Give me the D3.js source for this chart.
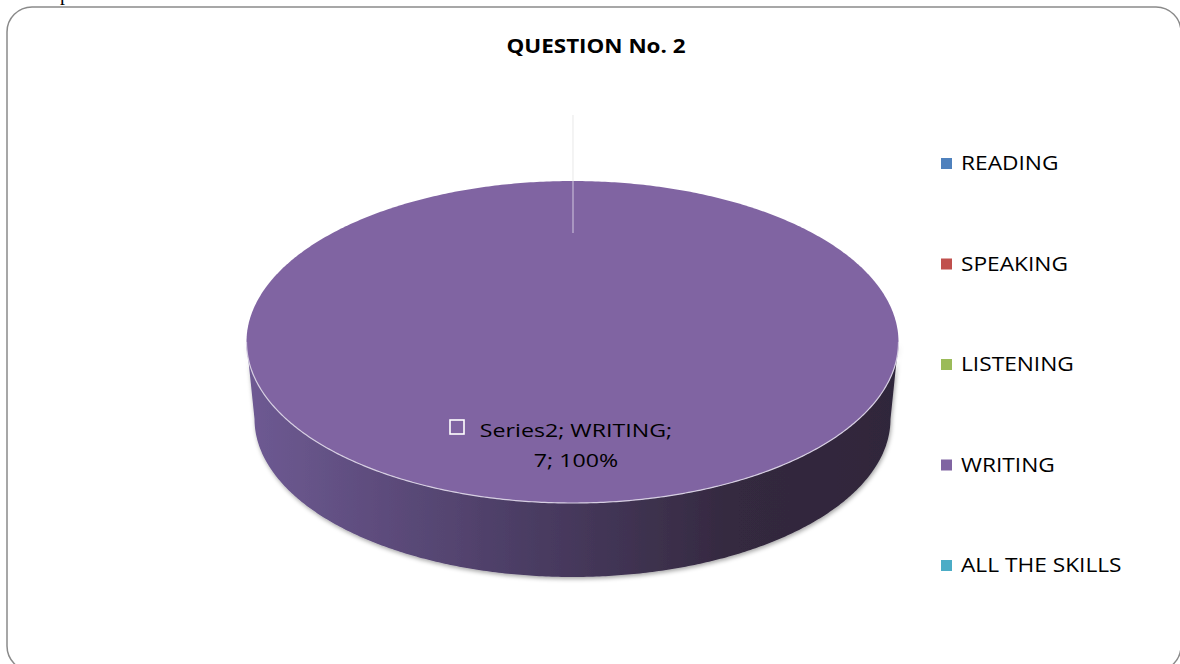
<!DOCTYPE html>
<html>
<head>
<meta charset="utf-8">
<script src="https://cdn.jsdelivr.net/npm/d3@7"></script>
<style>
  html, body { margin: 0; padding: 0; background: #fff; }
  svg { display: block; }
  text { font-family: "Open Sans", "Noto Sans", sans-serif; }
</style>
</head>
<body>
<svg id="chart" width="1180" height="664"></svg>
<script>
const title = "QUESTION No. 2";
const seriesName = "Series2";
const categories = ["READING", "SPEAKING", "LISTENING", "WRITING", "ALL THE SKILLS"];
const values = [0, 0, 0, 7, 0];
const colors = ["#4F81BD", "#C0504D", "#9BBB59", "#8064A2", "#4BACC6"];

const svg = d3.select("#chart");
const defs = svg.append("defs");

const grad = defs.append("linearGradient").attr("id", "sideGrad")
  .attr("x1", "0%").attr("x2", "100%").attr("y1", "0%").attr("y2", "0%");
[["0%", "#6e5a93"], ["45%", "#493b61"], ["75%", "#34293f"], ["100%", "#2f263a"]]
  .forEach(([o, c]) => grad.append("stop").attr("offset", o).attr("stop-color", c));
const shadow = defs.append("filter").attr("id", "shadow")
  .attr("x", "-5%").attr("y", "-5%").attr("width", "110%").attr("height", "120%");
shadow.append("feDropShadow").attr("dx", 1).attr("dy", 2).attr("stdDeviation", 2)
  .attr("flood-color", "#000").attr("flood-opacity", 0.35);

// stray document text at the top
svg.append("text").attr("x", 60).attr("y", 0).text("p")
  .style("font-family", "'Liberation Serif', serif").style("font-size", "20px").attr("fill", "#000");

// border
svg.append("rect").attr("x", 7).attr("y", 7).attr("width", 1174).attr("height", 664)
  .attr("rx", 25).attr("ry", 25).attr("fill", "none").attr("stroke", "#8a8a8a").attr("stroke-width", 1.5);

// stretched text helper
function stext(x, y, str, size, sx, anchor, weight) {
  return svg.append("text")
    .attr("transform", `translate(${x},${y}) scale(${sx},1)`)
    .attr("text-anchor", anchor || "start")
    .style("font-size", size + "px").style("font-weight", weight || "normal")
    .attr("fill", "#000").text(str);
}

// title
stext(596, 53, title, 19, 1.18, "middle", "bold");

// pie geometry
const cx = 572.5, cy = 342, rx = 326, ry = 161;
const cyB = 419, rxB = 318, ryB = 158;
const pie = d3.pie().sort(null).value(d => d)(values);
const color = d3.scaleOrdinal().domain(categories).range(colors);

function pt(a, ex, ey, cyy) { return [cx + ex * Math.sin(a), cyy - ey * Math.cos(a)]; }
function arcPoints(a0, a1, ex, ey, cyy) {
  const n = Math.max(2, Math.ceil((a1 - a0) / 0.01));
  return d3.range(n + 1).map(i => pt(a0 + (a1 - a0) * i / n, ex, ey, cyy));
}
const line = d3.line();

pie.forEach((p, i) => {
  if (p.value <= 0) return;
  const s0 = Math.max(p.startAngle, Math.PI / 2), s1 = Math.min(p.endAngle, 3 * Math.PI / 2);
  if (s1 > s0) {
    const topPts = arcPoints(s0, s1, rx, ry, cy);
    const botPts = arcPoints(s0, s1, rxB, ryB, cyB).reverse();
    svg.append("path").attr("d", line(topPts.concat(botPts)) + "Z")
      .attr("fill", "url(#sideGrad)").attr("filter", "url(#shadow)");
  }
  const full = (p.endAngle - p.startAngle) >= 2 * Math.PI - 1e-6;
  const pts = arcPoints(p.startAngle, p.endAngle, rx, ry, cy);
  const d = full ? line(pts) + "Z" : line([[cx, cy]].concat(pts)) + "Z";
  svg.append("path").attr("d", d).attr("fill", color(categories[i]));
  if (s1 > s0) {
    svg.append("path").attr("d", line(arcPoints(s0, s1, rx, ry, cy)))
      .attr("fill", "none").attr("stroke", "#d6cee2").attr("stroke-width", 1.2);
  }
});

// slice boundary artifact line
const edge = pie.find(p => p.value > 0);
const ex0 = pt(edge.startAngle, rx, ry, cy);
svg.append("line").attr("x1", ex0[0] + 0.5).attr("x2", ex0[0] + 0.5).attr("y1", 115).attr("y2", ex0[1])
  .attr("stroke", "#ececec").attr("stroke-width", 1.2);
svg.append("line").attr("x1", ex0[0] + 0.5).attr("x2", ex0[0] + 0.5).attr("y1", ex0[1]).attr("y2", 233)
  .attr("stroke", "#c4b8d6").attr("stroke-width", 1.2);

// data label
pie.forEach((p, i) => {
  if (p.value <= 0) return;
  const total = d3.sum(values);
  const pct = Math.round(p.value / total * 100) + "%";
  svg.append("rect").attr("x", 450).attr("y", 420).attr("width", 14).attr("height", 14)
    .attr("fill", "none").attr("stroke", "#fff").attr("stroke-width", 1.6);
  stext(576, 437, `${seriesName}; ${categories[i]};`, 19, 1.22, "middle");
  stext(576, 467, `${p.value}; ${pct}`, 19, 1.22, "middle");
});

// legend
const ly = d3.scalePoint().domain(categories).range([170, 572]);
categories.forEach(c => {
  svg.append("rect").attr("x", 941).attr("y", ly(c) - 12).attr("width", 11).attr("height", 11)
    .attr("fill", color(c));
  stext(961, ly(c), c, 19.5, 1.165, "start");
});
</script>
</body>
</html>
